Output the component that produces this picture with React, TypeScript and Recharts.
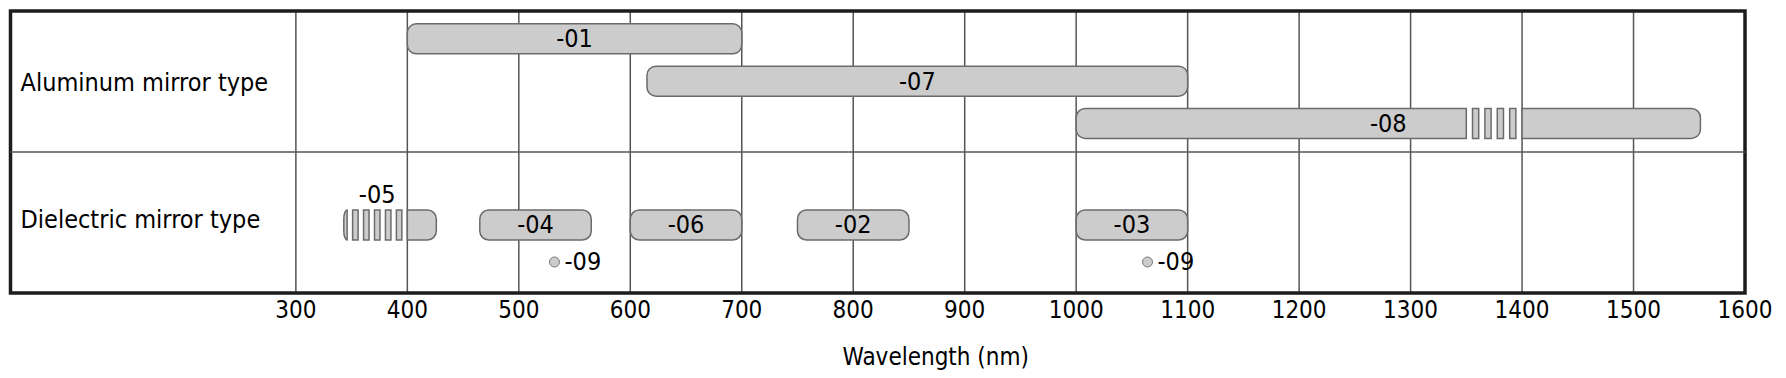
import {
  Bar,
  CartesianGrid,
  ComposedChart,
  ReferenceArea,
  ReferenceLine,
  Scatter,
  XAxis,
  YAxis,
} from 'recharts';

const FONT = "'DejaVu Sans Condensed', 'DejaVu Sans', sans-serif";

// wavelength axis (nm)
const wavelengthTicks = [300, 400, 500, 600, 700, 800, 900, 1000, 1100, 1200, 1300, 1400, 1500, 1600];
const wavelengthDomain = [44, 1600];

// rows (y is in "lane" units, 0 at top, 10 at bottom)
const rowNames = ['Aluminum mirror type', 'Dielectric mirror type'];
const rowLanes = [2.55, 7.4];
const rowDivider = 5;

// mirror coatings
const mirrorNames = ['-01', '-07', '-08', '-05', '-04', '-06', '-02', '-03'];
const mirrorLanes = [1.0, 2.5, 4.0, 7.6, 7.6, 7.6, 7.6, 7.6];
const mirrorRanges = [
  [400, 700],
  [615, 1100],
  [1000, 1560],
  [343, 426],
  [465, 565],
  [600, 700],
  [750, 850],
  [1000, 1100],
];
// broken (striped) part of a range, and how many stripes it has
const mirrorBreaks = [null, null, [1350, 1400], [346, 400], null, null, null, null];
const breakStripes = [0, 0, 4, 5, 0, 0, 0, 0];
const labelAboveNames = ['-05'];

// laser line mirrors
const laserName = '-09';
const laserWavelengths = [532, 1064];
const laserLane = 8.9;

const bars = mirrorNames.map((name, i) => ({
  name,
  lane: mirrorLanes[i],
  range: mirrorRanges[i],
  brk: mirrorBreaks[i],
  stripes: breakStripes[i],
  above: labelAboveNames.includes(name),
}));

const dots = laserWavelengths.map((wl) => ({ name: laserName, wl, lane: laserLane }));

const piecePath = (a: number, b: number, top: number, h: number, r: number, roundL: boolean, roundR: boolean) => {
  const w = b - a;
  const rl = roundL ? Math.min(r, roundR ? w / 2 : w) : 0;
  const rr = roundR ? Math.min(r, roundL ? w / 2 : w) : 0;
  const ry = Math.min(r, h / 2);
  const bottom = top + h;
  let d = `M${a + rl},${top} H${b - rr}`;
  if (rr) d += ` A${rr},${ry} 0 0 1 ${b},${top + ry} V${bottom - ry} A${rr},${ry} 0 0 1 ${b - rr},${bottom}`;
  else d += ` V${bottom}`;
  d += ` H${a + rl}`;
  if (rl) d += ` A${rl},${ry} 0 0 1 ${a},${bottom - ry} V${top + ry} A${rl},${ry} 0 0 1 ${a + rl},${top}`;
  else d += ` V${top}`;
  return d + ' Z';
};

const MirrorBar = (props: any) => {
  const { x, y, width, height, payload } = props;
  const [lo, hi] = payload.range;
  const toPx = (nm: number) => x + ((nm - lo) / (hi - lo)) * width;
  const end = x + width;
  const pieces: [number, number][] = [];
  let labelX = x + width / 2;
  if (payload.brk) {
    const za = toPx(payload.brk[0]);
    const zb = toPx(payload.brk[1]);
    const n = payload.stripes;
    const step = (zb - za) / (2 * n + 1);
    pieces.push([x, za]);
    for (let k = 0; k < n; k++) pieces.push([za + step * (2 * k + 1), za + step * (2 * k + 2)]);
    pieces.push([zb, end]);
    if (payload.above) labelX = (za + zb) / 2;
  } else {
    pieces.push([x, end]);
  }
  return (
    <g>
      {pieces.map(([a, b], k) => (
        <path
          key={k}
          d={piecePath(a, b, y, height, 9, a === x, b === end)}
          fill="#cccccc"
          stroke="#6b6b6b"
          strokeWidth={1.5}
        />
      ))}
      <text
        x={labelX}
        y={payload.above ? y - 15 : y + height / 2}
        textAnchor="middle"
        dominantBaseline="central"
        fontFamily={FONT}
        fontSize={25}
        fill="#000"
      >
        {payload.name}
      </text>
    </g>
  );
};

const LaserDot = (props: any) => {
  const { cx, cy, payload } = props;
  return (
    <g>
      <circle cx={cx} cy={cy} r={5} fill="#cccccc" stroke="#777" strokeWidth={1} />
      <text x={cx + 10} y={cy} dominantBaseline="central" fontFamily={FONT} fontSize={25} fill="#000">
        {payload.name}
      </text>
    </g>
  );
};

const RowTick = (props: any) => {
  const { x, y, payload } = props;
  return (
    <text x={x} y={y} textAnchor="start" dominantBaseline="central" fontFamily={FONT} fontSize={25} fill="#000">
      {rowNames[rowLanes.indexOf(payload.value)]}
    </text>
  );
};

const AxisTitle = (props: any) => {
  const { viewBox } = props;
  return (
    <text
      x={viewBox.x + viewBox.width / 2 + 58}
      y={viewBox.y + 64}
      textAnchor="middle"
      dominantBaseline="central"
      fontFamily={FONT}
      fontSize={24}
      fill="#000"
    >
      Wavelength (nm)
    </text>
  );
};

export default function App() {
  return (
    <ComposedChart
      width={1770}
      height={362}
      layout="vertical"
      data={bars}
      margin={{ top: 3, right: 33, bottom: 0, left: 2.5 }}
    >
      <CartesianGrid horizontal={false} stroke="#555" strokeWidth={1.5} />
      <XAxis
        type="number"
        domain={wavelengthDomain}
        ticks={wavelengthTicks}
        allowDataOverflow
        interval={0}
        axisLine={false}
        tickLine={false}
        tickSize={0}
        tickMargin={8}
        height={77}
        tick={{ fontSize: 24, fontFamily: FONT, fill: '#000' }}
        label={<AxisTitle />}
      />
      <YAxis
        type="number"
        dataKey="lane"
        domain={[0, 10]}
        allowDataOverflow
        ticks={rowLanes}
        interval={0}
        mirror
        axisLine={false}
        tickLine={false}
        tickSize={0}
        tickMargin={10}
        tick={<RowTick />}
      />
      <ReferenceLine y={rowDivider} stroke="#555" strokeWidth={1.5} />
      <ReferenceArea
        x1={wavelengthDomain[0]}
        x2={wavelengthDomain[1]}
        y1={0}
        y2={10}
        fill="none"
        stroke="#1c1c1c"
        strokeWidth={3.5}
      />
      <Bar dataKey="range" barSize={30} shape={MirrorBar} isAnimationActive={false} />
      <Scatter data={dots} dataKey="wl" shape={LaserDot} isAnimationActive={false} />
    </ComposedChart>
  );
}
